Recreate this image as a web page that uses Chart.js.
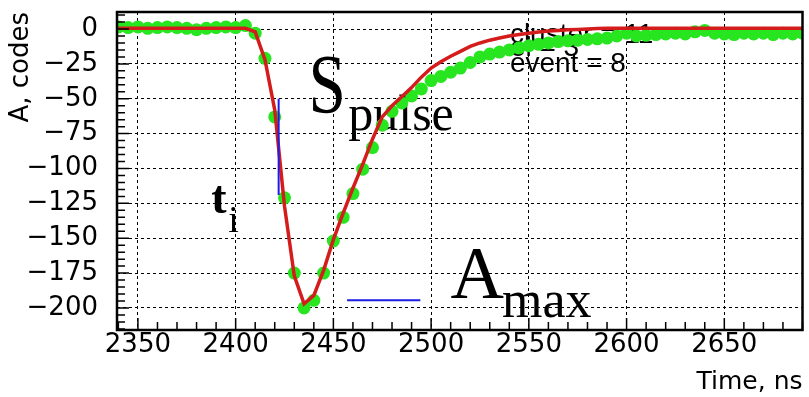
<!DOCTYPE html>
<html>
<head>
<meta charset="utf-8">
<script src="https://cdn.jsdelivr.net/npm/chart.js@4"></script>
<style>
  body { margin: 0; background: #fff; }
  #wrap { width: 809px; height: 397px; position: relative; }
</style>
</head>
<body>
<div id="wrap"><canvas id="grafica"></canvas></div>
<script>
// sample times (ns), one every 5 ns
const tiempos = [];
for (let t = 2340; t <= 2690; t += 5) tiempos.push(t);

// measured amplitude (green dots)
const medidos = [
  1.5, 1, 1.5, 0.5, 1, 1.5, 1, 0.5, -0.5, 0.5, 1, 1.5, 1, 2.5,
  -3, -21, -63, -121, -175, -200, -194.5, -175, -152, -135, -118, -100.5,
  -85, -69, -59, -53, -48, -43, -37, -34, -31, -28, -24, -20, -18, -16.5,
  -15, -13.5, -12, -11, -10, -9, -8.5, -8, -7.5, -7, -6.5, -5, -3, -5,
  -4.5, -4, -3.5, -3, -3.5, -2, -1, -3, -3.5, -4, -3, -3.5, -3, -4, -3, -3.5, -3
];

// fitted pulse (red line)
const ajuste = [
  0.5, 0.5, 0.5, 0.5, 0.5, 0.5, 0.5, 0.5, 0.5, 0.5, 0.5, 0.5, 0.5, 0.5,
  -2, -22, -58, -127, -177, -197, -191, -173, -151, -132, -114, -97,
  -79, -63, -55, -48.5, -42, -34.5, -28, -23.5, -19.5, -16, -12.5, -10, -8, -6.5,
  -5, -4, -3, -2.2, -1.5, -1, -0.6, -0.3, 0, 0.3, 0.5, 0.5, 0.5, 0.5,
  0.5, 0.5, 0.5, 0.5, 0.5, 0.5, 0.5, 0.5, 0.5, 0.5, 0.5, 0.5, 0.5, 0.5, 0.5, 0.5, 0.5
];

// blue markers: rise time segment and amplitude level
const marcaTi = [{ x: 2422, y: -50 }, { x: 2422, y: -119 }];
const marcaAmax = [{ x: 2457, y: -194.5 }, { x: 2494.5, y: -194.5 }];

const ticksX = [2350, 2400, 2450, 2500, 2550, 2600, 2650];
const ticksY = [0, -25, -50, -75, -100, -125, -150, -175, -200];

const rangoX = [2339.3, 2690];
const rangoY = [-215.8, 12.2];

const textoEstad = ['cluster = 11', 'el = 3', 'event = 8'];

const puntos = (vals) => tiempos.map((t, i) => ({ x: t, y: vals[i] }));
const menos = (v) => (v < 0 ? '\u2212' + Math.abs(v) : String(v));

const decoracion = {
    id: 'decoracion',
    beforeDatasetsDraw(chart) {
        const { ctx, scales: { x, y } } = chart;
        ctx.save();
        ctx.fillStyle = '#000';
        ctx.textBaseline = 'alphabetic';

        // statistics box text (partly hidden by the curves)
        ctx.font = '28px "Liberation Sans"';
        const bases = [-10, -19, -31];
        textoEstad.forEach((txt, i) => {
            ctx.fillText(txt, x.getPixelForValue(2540.3), y.getPixelForValue(bases[i]));
        });

        // S_pulse
        ctx.save();
        ctx.translate(x.getPixelForValue(2437.3), y.getPixelForValue(-60.3));
        ctx.scale(0.8, 1);
        ctx.font = '84px "Liberation Serif"';
        ctx.fillText('S', 0, 0);
        ctx.restore();
        ctx.font = '50px "Liberation Serif"';
        ctx.fillText('pulse', x.getPixelForValue(2457.6), y.getPixelForValue(-72.5));

        // t_i
        ctx.font = 'bold 46px "Liberation Serif"';
        ctx.fillText('t', x.getPixelForValue(2387.5), y.getPixelForValue(-132));
        ctx.font = '38px "Liberation Serif"';
        ctx.fillText('i', x.getPixelForValue(2396.2), y.getPixelForValue(-145.7));

        // A_max
        ctx.font = '74px "Liberation Serif"';
        ctx.fillText('A', x.getPixelForValue(2509.9), y.getPixelForValue(-193.1));
        ctx.font = '52px "Liberation Serif"';
        ctx.fillText('max', x.getPixelForValue(2536.3), y.getPixelForValue(-206.7));
        ctx.restore();
    },
    afterDraw(chart) {
        const { ctx, chartArea: a, scales: { x, y } } = chart;
        ctx.save();
        ctx.strokeStyle = '#000';
        ctx.lineWidth = 1.5;
        ctx.beginPath();
        // minor ticks on the left axis every 5 codes
        for (let v = -215; v <= 10; v += 5) {
            const py = y.getPixelForValue(v);
            const largo = v % 25 === 0 ? 12 : 8;
            ctx.moveTo(a.left, py);
            ctx.lineTo(a.left + largo, py);
        }
        // minor ticks on the bottom axis every 10 ns
        for (let t = 2340; t <= 2690; t += 10) {
            const px = x.getPixelForValue(t);
            const largo = t % 50 === 0 ? 12 : 8;
            ctx.moveTo(px, a.bottom);
            ctx.lineTo(px, a.bottom - largo);
        }
        ctx.stroke();
        ctx.lineWidth = 2.5;
        ctx.strokeRect(a.left, a.top, a.right - a.left, a.bottom - a.top);
        ctx.restore();
    }
};

const ctx = document.getElementById('grafica').getContext('2d');
new Chart(ctx, {
    type: 'scatter',
    data: {
        datasets: [
            {
                label: 'ti',
                data: marcaTi,
                showLine: true,
                borderColor: '#1c1ce8',
                borderWidth: 2,
                pointRadius: 0,
                order: 0
            },
            {
                label: 'Amax',
                data: marcaAmax,
                showLine: true,
                borderColor: '#1c1ce8',
                borderWidth: 2,
                pointRadius: 0,
                order: 0
            },
            {
                label: 'ajuste',
                data: puntos(ajuste),
                showLine: true,
                borderColor: '#d41c1c',
                borderWidth: 3.5,
                pointRadius: 0,
                tension: 0,
                order: 1
            },
            {
                label: 'medidos',
                data: puntos(medidos),
                showLine: false,
                pointRadius: 6.5,
                pointBackgroundColor: '#27e51f',
                pointBorderWidth: 0,
                order: 2
            }
        ]
    },
    options: {
        animation: false,
        responsive: true,
        maintainAspectRatio: false,
        layout: { padding: { top: 12, right: 2, left: 0, bottom: 0 } },
        plugins: {
            legend: { display: false },
            tooltip: { enabled: false }
        },
        scales: {
            x: {
                type: 'linear',
                min: rangoX[0],
                max: rangoX[1],
                afterBuildTicks: (s) => { s.ticks = ticksX.map(v => ({ value: v })); },
                afterFit: (s) => { s.height = 67; s.paddingLeft = 0; s.paddingRight = 0; },
                ticks: {
                    color: '#000',
                    padding: 0,
                    maxRotation: 0,
                    font: { family: 'DejaVu Sans', size: 26 },
                    callback: (v) => String(v)
                },
                grid: { color: '#000', lineWidth: 1, drawTicks: false },
                border: { display: false, dash: [3, 3] },
                title: {
                    display: true,
                    text: 'Time, ns',
                    align: 'end',
                    color: '#000',
                    font: { family: 'DejaVu Sans', size: 25 },
                    padding: { top: 0, bottom: 0 }
                }
            },
            y: {
                type: 'linear',
                min: rangoY[0],
                max: rangoY[1],
                afterBuildTicks: (s) => { s.ticks = ticksY.map(v => ({ value: v })); },
                afterFit: (s) => { s.width = 117; s.paddingTop = 0; s.paddingBottom = 0; },
                ticks: {
                    color: '#000',
                    padding: 19,
                    font: { family: 'DejaVu Sans', size: 26 },
                    callback: (v) => menos(v)
                },
                grid: { color: '#000', lineWidth: 1, drawTicks: false },
                border: { display: false, dash: [3, 3] },
                title: {
                    display: true,
                    text: 'A, codes',
                    align: 'end',
                    color: '#000',
                    font: { family: 'DejaVu Sans', size: 26 },
                    padding: { top: 6, bottom: 0 }
                }
            }
        }
    },
    plugins: [decoracion]
});
</script>
</body>
</html>
